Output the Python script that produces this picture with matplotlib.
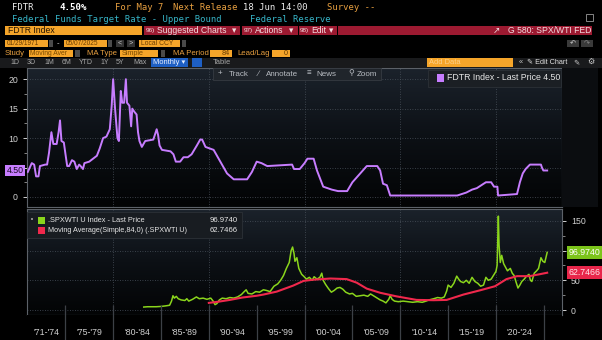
"""
FDTR vs SPX/WTI ratio - Bloomberg style chart (G 580)
"""

import numpy as np
import matplotlib
matplotlib.use('Agg')
import matplotlib.pyplot as plt
from matplotlib.patches import Rectangle
from matplotlib.colors import LinearSegmentedColormap
from matplotlib.transforms import blended_transform_factory


# ── 1. Data (decimal years) ───────────────────────────────────────────────────

fdtr_dates = [
    1971.08, 1971.5, 1971.75, 1971.95, 1972.2, 1972.35, 1972.9, 1973.1, 1973.3, 1973.55,
    1973.75, 1974.1, 1974.3, 1974.45, 1974.6, 1974.85, 1975.0, 1975.2, 1975.4, 1975.7,
    1975.95, 1976.2, 1976.45, 1976.6, 1976.85, 1977.0, 1977.5, 1977.9, 1978.3, 1978.6,
    1978.95, 1979.3, 1979.65, 1979.85, 1980.0, 1980.2, 1980.45, 1980.6, 1980.8, 1980.95,
    1981.15, 1981.33, 1981.45, 1981.7, 1981.88, 1982.0, 1982.2, 1982.45, 1982.6, 1982.75,
    1983.0, 1983.35, 1984.2, 1984.4, 1984.55, 1984.7, 1984.85, 1985.1, 1986.0, 1986.3,
    1986.55, 1987.0, 1987.35, 1987.8, 1988.2, 1988.75, 1989.1, 1989.3, 1989.65, 1990.5,
    1990.85, 1991.2, 1991.9, 1992.6, 1994.0, 1994.5, 1995.0, 1995.5, 1996.1, 1998.7,
    1998.9, 1999.5, 2000.0, 2000.3, 2000.95, 2001.3, 2001.95, 2002.85, 2003.5, 2004.45,
    2005.0, 2006.5, 2007.6, 2007.9, 2008.2, 2008.6, 2008.95, 2015.95, 2016.9, 2017.5,
    2018.0, 2018.95, 2019.5, 2019.8, 2020.15, 2020.22, 2022.2, 2022.5, 2022.8, 2023.1,
    2023.55, 2024.7, 2024.8, 2024.95, 2025.35,
]
fdtr_values = [
    4.25, 5.75, 5.5, 3.5, 3.5, 5.25, 5.5, 5.5, 7.5, 11.0,
    9.0, 9.0, 11.0, 13.0, 9.5, 9.25, 7.5, 5.25, 5.25, 6.25,
    6.0, 4.75, 5.5, 5.25, 4.75, 5.75, 6.0, 6.5, 7.0, 8.25,
    10.0, 10.25, 11.5, 15.5, 20.0, 15.0, 10.0, 9.5, 18.0, 16.0,
    16.0, 20.0, 16.0, 15.5, 12.0, 15.0, 14.5, 14.0, 11.0, 9.5,
    8.5, 9.5, 9.75, 10.75, 11.5, 10.5, 8.75, 8.0, 7.75, 7.25,
    6.0, 6.0, 6.75, 6.75, 7.25, 8.75, 9.75, 9.75, 8.5, 8.0,
    7.0, 6.0, 4.0, 3.0, 3.0, 4.25, 6.0, 5.75, 5.25, 5.5,
    4.75, 4.75, 5.75, 6.5, 6.5, 4.5, 1.75, 1.25, 1.0, 1.0,
    2.5, 5.25, 5.25, 4.5, 2.25, 2.0, 0.25, 0.25, 0.75, 1.25,
    1.5, 2.5, 2.5, 1.75, 1.75, 0.25, 0.5, 2.5, 4.0, 4.75,
    5.5, 5.5, 5.0, 4.5, 4.5,
]

spxwti_dates = [
    1983.2, 1983.6, 1984.0, 1984.5, 1985.0, 1985.5, 1985.9, 1986.1, 1986.25, 1986.4,
    1986.6, 1986.8, 1987.1, 1987.5, 1987.7, 1987.9, 1988.3, 1988.7, 1989.0, 1989.4,
    1989.8, 1990.2, 1990.45, 1990.65, 1990.85, 1991.1, 1991.4, 1991.8, 1992.2, 1992.6,
    1993.0, 1993.4, 1993.7, 1993.9, 1994.1, 1994.5, 1994.9, 1995.3, 1995.7, 1996.0,
    1996.4, 1996.8, 1997.2, 1997.5, 1997.8, 1998.1, 1998.4, 1998.6, 1998.75, 1998.9,
    1999.0, 1999.2, 1999.4, 1999.7, 1999.9, 2000.2, 2000.5, 2000.8, 2001.0, 2001.3,
    2001.6, 2001.8, 2001.95, 2002.2, 2002.5, 2002.8, 2003.1, 2003.4, 2003.7, 2004.0,
    2004.3, 2004.7, 2005.0, 2005.4, 2005.8, 2006.2, 2006.6, 2006.9, 2007.2, 2007.5,
    2007.9, 2008.2, 2008.5, 2008.8, 2008.95, 2009.15, 2009.4, 2009.8, 2010.3, 2010.8,
    2011.3, 2011.8, 2012.3, 2012.7, 2013.0, 2013.5, 2013.9, 2014.3, 2014.6, 2014.85,
    2015.0, 2015.3, 2015.6, 2015.9, 2016.1, 2016.3, 2016.6, 2016.9, 2017.2, 2017.5,
    2017.8, 2018.1, 2018.4, 2018.7, 2018.95, 2019.2, 2019.5, 2019.8, 2020.0, 2020.12,
    2020.25, 2020.32, 2020.45, 2020.6, 2020.8, 2021.0, 2021.2, 2021.5, 2021.7, 2021.9,
    2022.1, 2022.3, 2022.5, 2022.7, 2022.95, 2023.2, 2023.45, 2023.6, 2023.75, 2024.0,
    2024.25, 2024.45, 2024.7, 2024.9, 2025.1, 2025.25, 2025.35,
]
spxwti_values = [
    5, 5.5, 5.5, 5.5, 6, 7, 8, 15, 24, 20,
    23, 19, 17, 16, 19, 15, 18, 22, 19, 20,
    18, 20, 15, 9, 11, 17, 20, 19, 21, 20,
    22, 26, 31, 34, 28, 27, 31, 30, 34, 33,
    31, 40, 44, 50, 58, 70, 80, 100, 106, 95,
    82, 88, 70, 60, 57, 52, 55, 50, 56, 52,
    55, 62, 50, 43, 36, 30, 33, 37, 38, 35,
    30, 27, 28, 23, 24, 25, 23, 27, 24, 21,
    17, 15, 12, 18, 24, 18, 15, 14, 15, 14,
    13, 14, 13, 15, 17, 19, 21, 20, 22, 32,
    42, 38, 45, 57, 52, 48, 46, 50, 45, 55,
    48, 45, 40, 42, 55, 50, 52, 60, 65, 75,
    158, 110, 80, 92, 78, 72, 66, 70, 62, 58,
    47, 37, 42, 48, 52, 57, 60, 50, 48, 62,
    66, 70, 88, 82, 80, 90, 96.974,
]

ma_dates = [
    1990.0, 1991.0, 1992.2, 1993.5, 1995.0, 1995.7, 1997.1, 1998.8, 1999.9, 2000.9,
    2002.7, 2004.4, 2005.45, 2006.5, 2007.9, 2009.6, 2011.7, 2013.5, 2014.85, 2016.6,
    2018.3, 2019.9, 2021.1, 2022.2, 2023.5, 2024.5, 2025.35,
]
ma_values = [
    12, 14, 17, 21, 24, 26, 31, 41, 49, 51,
    53, 52, 46, 36, 29, 23, 17, 16.5, 17, 26,
    33, 40, 52, 57, 57, 60, 62.7466,
]

period_labels = ["'71-'74", "'75-'79", "'80-'84", "'85-'89", "'90-'94", "'95-'99",
                 "'00-'04", "'05-'09", "'10-'14", "'15-'19", "'20-'24"]
period_starts = [1971, 1975, 1980, 1985, 1990, 1995, 2000, 2005, 2010, 2015, 2020]


# ── 2. Helpers (pixel layout, measured from the top-left) ─────────────────────

W, H = 602, 340
PURPLE = '#c77dff'
GREEN = '#8ad51c'
RED = '#f0284c'
ORANGE = '#f5a52a'
ORANGE_TXT = '#e8a040'
MONO = ['DejaVu Sans Mono', 'DejaVu Sans']
SANS = ['Liberation Sans', 'DejaVu Sans']

fig = plt.figure(figsize=(W / 100, H / 100), dpi=100, facecolor='black')


def frect(x0, y0, x1, y1):
    return [x0 / W, 1 - y1 / H, (x1 - x0) / W, (y1 - y0) / H]


def box(x0, y0, x1, y1, color, ec='none', z=5):
    fig.patches.append(Rectangle((x0 / W, 1 - y1 / H), (x1 - x0) / W, (y1 - y0) / H,
                                 transform=fig.transFigure, facecolor=color,
                                 edgecolor=ec, lw=0.6, zorder=z))


def txt(x, y, s, color='white', size=5.8, family=SANS, **kw):
    fig.text(x / W, 1 - y / H, s, color=color, fontsize=size, family=family,
             va='center', zorder=kw.pop('zorder', 8), **kw)


bg_cmap = LinearSegmentedColormap.from_list('bg', ['#030405', '#0c1015', '#1b222b'])
grid_kw = dict(color='#4a525c', lw=0.6, ls=(0, (1, 2)))


def style_panel(ax):
    ax.set_facecolor('black')
    grad = np.linspace(0, 1, 64).reshape(-1, 1)
    ax.imshow(grad, extent=[0, 1, 0, 1], transform=ax.transAxes, aspect='auto',
              cmap=bg_cmap, origin='lower', zorder=0)
    for s in ax.spines.values():
        s.set_color('#5c6168')
        s.set_linewidth(0.8)
    ax.tick_params(colors='#d0d0d0', labelsize=6.3, length=3, width=0.7)
    ax.tick_params(which='minor', length=2, width=0.6, colors='#9a9a9a')
    for lbl in ax.get_yticklabels():
        lbl.set_family(SANS)
    ax.set_xticks([1980, 1990, 2000, 2010, 2020])
    ax.grid(True, **grid_kw)
    ax.set_axisbelow(True)


# ── 3. Top panel: FDTR ────────────────────────────────────────────────────────

ax1 = fig.add_axes(frect(27, 68, 562, 207))
ax1.plot(fdtr_dates, fdtr_values, color=PURPLE, lw=1.4, zorder=3)
ax1.set_xlim(1971.0, 2026.9)
ax1.set_ylim(-1.7, 21.9)
ax1.set_yticks([0, 5, 10, 15, 20])
ax1.set_yticklabels(['0', '', '10', '15', '20'])
ax1.set_yticks(np.arange(0, 21, 2.5), minor=True)
style_panel(ax1)
ax1.tick_params(axis='x', length=0, labelbottom=False)
ax1.tick_params(axis='x', which='minor', length=0)
ax1.text(-0.006, 4.5, '4.50', transform=blended_transform_factory(ax1.transAxes, ax1.transData),
         ha='right', va='center', fontsize=6.3, family=SANS, color='#1a0a22',
         bbox=dict(boxstyle='square,pad=0.15', fc=PURPLE, ec='none'), clip_on=False, zorder=6)

# right-hand strip of the top panel
box(562, 68, 598, 207, '#0b0d10', z=0.5)


# ── 4. Bottom panel: SPX / WTI with 84m moving average ────────────────────────

ax2 = fig.add_axes(frect(27, 209, 562, 315))
ax2.plot(spxwti_dates, spxwti_values, color=GREEN, lw=1.1, zorder=3)
ax2.plot(ma_dates, ma_values, color=RED, lw=1.5, zorder=4)
ax2.set_xlim(1971.0, 2026.9)
ax2.set_ylim(-8.4, 170)
ax2.yaxis.tick_right()
ax2.set_yticks([0, 50, 100, 150])
ax2.set_yticklabels(['0', '50', '', '150'])
ax2.set_yticks(np.arange(0, 151, 25), minor=True)
style_panel(ax2)
ax2.tick_params(axis='x', length=0, labelbottom=False)

ytr = blended_transform_factory(ax2.transAxes, ax2.transData)
ax2.text(1.012, spxwti_values[-1], '96.9740', transform=ytr, ha='left', va='center',
         fontsize=6.3, family=SANS, color='white', clip_on=False, zorder=6,
         bbox=dict(boxstyle='square,pad=0.2', fc='#7cc41a', ec='none'))
ax2.text(1.012, ma_values[-1], '62.7466', transform=ytr, ha='left', va='center',
         fontsize=6.3, family=SANS, color='#ffe6ea', clip_on=False, zorder=6,
         bbox=dict(boxstyle='square,pad=0.2', fc='#e8264a', ec='none'))

# period axis under the bottom panel
axx = fig.add_axes(frect(27, 315, 562, 340), facecolor='black')
axx.set_xlim(1971.0, 2026.9)
axx.set_ylim(0, 1)
for s in axx.spines.values():
    s.set_visible(False)
axx.set_yticks([])
mids = [(a + b) / 2 for a, b in zip(period_starts, period_starts[1:] + [2025])]
axx.set_xticks(mids)
axx.set_xticklabels(period_labels, fontsize=6.3, family=SANS, color='#d0d0d0')
axx.tick_params(axis='x', length=0, pad=-8.8)
axx.set_xticks(period_starts[1:] + [2025], minor=True)
axx.tick_params(axis='x', which='minor', direction='in', length=25, width=0.9,
                color='#3c4046', bottom=True)


# ── 5. Overlays inside the panels ─────────────────────────────────────────────

# tool strip
box(213, 68, 381, 80, '#20252b', ec='#363b42', z=6)
for x, s in [(218, '+'), (229, 'Track'), (258, '∕'), (266, 'Annotate'),
             (307, '≡'), (316, 'News'), (348, '⚲'), (357, 'Zoom')]:
    txt(x, 74, s, color='#b8bcc2', size=5.8)

# top legend
box(428, 70, 561, 87, '#1b1f24', ec='#2c3137', z=6)
box(437, 74, 444, 82, PURPLE, z=7)
txt(447, 78, 'FDTR Index - Last Price 4.50', color='#e6e6e6', size=6.3)

# bottom legend
box(27, 212, 242, 238, '#181c21', ec='#2c3137', z=6)
box(31, 218, 33, 220, '#888888', z=7)
box(31.5, 219, 32.3, 231, '#888888', z=7)
box(31.5, 230.5, 36, 231.3, '#888888', z=7)
box(38, 217, 45, 224, GREEN, z=7)
box(38, 227, 45, 234, RED, z=7)
txt(48, 220.5, '.SPXWTI U Index - Last Price', color='#e6e6e6', size=5.3)
txt(238, 220.5, '96.9740', color='#e6e6e6', size=5.6, ha='right')
txt(48, 230.5, 'Moving Average(Simple,84,0) (.SPXWTI U)', color='#e6e6e6', size=5.2)
txt(238, 230.5, '62.7466', color='#e6e6e6', size=5.6, ha='right')


# ── 6. Terminal header rows ───────────────────────────────────────────────────

txt(12, 7, 'FDTR', color='#f0f0f0', size=6.4, family=MONO)
txt(60, 7, '4.50%', color='#ffffff', size=6.6, family=MONO, weight='bold')
txt(115, 7, 'For May 7', color=ORANGE_TXT, size=6.4, family=MONO)
txt(173, 7, 'Next Release', color=ORANGE_TXT, size=6.4, family=MONO)
txt(243, 7, '18 Jun 14:00', color='#f0f0f0', size=6.4, family=MONO)
txt(327, 7, 'Survey --', color=ORANGE_TXT, size=6.4, family=MONO)
txt(12, 19, 'Federal Funds Target Rate - Upper Bound', color='#37b5c8', size=6.4, family=MONO)
txt(250, 19, 'Federal Reserve', color='#37b5c8', size=6.4, family=MONO)
box(586, 14, 593, 21, 'none', ec='#9a9a9a')

# row 3: security box and red menu bar
box(5, 26, 142, 35, ORANGE)
txt(8, 30.5, 'FDTR Index', color='#241400', size=6.2)
box(144, 26, 592, 35, '#9c1a31')
for x0 in (240, 297.5, 336.5):
    box(x0, 26, x0 + 1.5, 35, '#000000', z=6)
for x, s in [(146, '96)'), (157, 'Suggested Charts'), (232, '▾'),
             (244, '97)'), (255, 'Actions'), (289, '▾'),
             (300, '98)'), (311, 'Edit'), (329, '▾')]:
    txt(x, 30.5, s, color='#f3dde1', size=4.6 if ')' in s else 6.2)
txt(493, 30.5, '↗', color='#f3dde1', size=6.2)
txt(508, 30.5, 'G 580: SPX/WTI FED', color='#f3dde1', size=6.2)

# row 4: dates
box(5, 40, 48, 47, ORANGE)
txt(6.5, 43.5, '01/29/1971', color='#6a3c00', size=4.7)
box(49, 40, 53, 47, '#4a4a4a')
txt(57, 43.5, '-', color='#dddddd', size=5.6)
box(64, 40, 107, 47, ORANGE)
txt(65.5, 43.5, '05/07/2025', color='#6a3c00', size=4.7)
box(108, 40, 112, 47, '#4a4a4a')
box(116, 40, 124, 47, '#333333')
txt(118, 43.5, '<', color='#cccccc', size=5.2)
box(127, 40, 135, 47, '#333333')
txt(129, 43.5, '>', color='#cccccc', size=5.2)
box(139, 40, 180, 47, ORANGE)
txt(141, 43.5, 'Local CCY', color='#6a3c00', size=4.9)
box(182, 40, 186, 47, '#4a4a4a')
box(567, 40, 579, 47, '#3a3a3a')
txt(570, 43.5, '↶', color='#cccccc', size=5.2)
box(581, 40, 593, 47, '#3a3a3a')
txt(584, 43.5, '↷', color='#888888', size=5.2)

# row 5: study settings
txt(5, 53.5, 'Study', color=ORANGE_TXT, size=5.6)
box(29, 50, 73, 57, ORANGE)
txt(30.5, 53.5, 'Moving Aver', color='#7a4a00', size=4.9)
box(75, 50, 80, 57, '#4a4a4a')
txt(87, 53.5, 'MA Type', color=ORANGE_TXT, size=5.6)
box(120, 50, 158, 57, ORANGE)
txt(122, 53.5, 'Simple', color='#7a4a00', size=5.2)
box(161, 50, 165, 57, '#4a4a4a')
txt(173, 53.5, 'MA Period', color=ORANGE_TXT, size=5.6)
box(210, 50, 232, 57, ORANGE)
txt(230, 53.5, '84', color='#6a3c00', size=5.2, ha='right')
txt(237, 53.5, 'Lead/Lag', color=ORANGE_TXT, size=5.6)
box(272, 50, 290, 57, ORANGE)
txt(288, 53.5, '0', color='#6a3c00', size=5.2, ha='right')

# row 6: range buttons and chart tools
box(0, 58, 602, 67.5, '#191a1c', z=0.5)
for x, s in [(10, '1D'), (27, '3D'), (44, '1M'), (62, '6M'), (79, 'YTD'),
             (100, '1Y'), (116, '5Y'), (133, 'Max')]:
    txt(x, 62.5, s, color='#a8a8a8', size=5.0)
box(151, 58.5, 188, 66.5, '#1e5fc4')
txt(153, 62.5, 'Monthly ▾', color='#e8f0ff', size=5.4)
box(192, 58.5, 202, 66.5, '#1e5fc4')
txt(213, 62.5, 'Table', color='#a8a8a8', size=5.4)
box(427, 58.5, 513, 66.5, ORANGE)
txt(429, 62.5, 'Add Data', color='#fcd08a', size=5.4)
txt(519, 62.5, '«', color='#cccccc', size=5.4)
txt(527, 62.5, '✎ Edit Chart', color='#e0e0e0', size=5.2)
txt(573, 62.5, '✎', color='#cccccc', size=5.4)
txt(587, 62.5, '⚙', color='#cccccc', size=5.8)

fig.savefig('out.png', dpi=100, facecolor='black')
plt.close(fig)
